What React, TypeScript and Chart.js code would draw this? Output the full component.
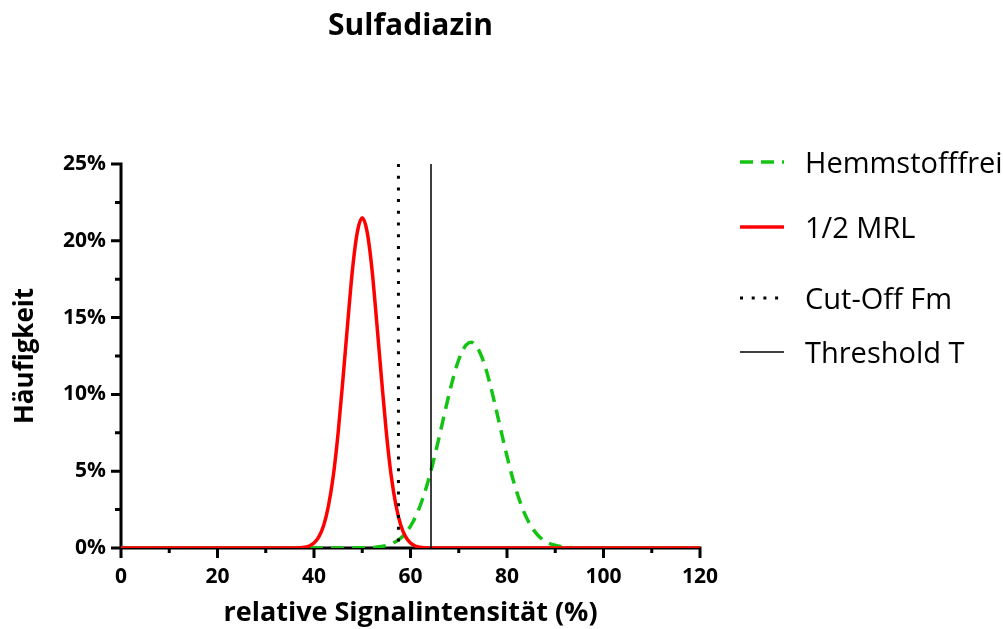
import { useEffect, useRef } from 'react';
import { Chart, registerables } from 'chart.js';

Chart.register(...registerables);

// Series labels, in legend order
const seriesLabels = ['Hemmstofffrei', '1/2 MRL', 'Cut-Off Fm', 'Threshold T'];

// Axis ticks
const xTickValues = [0, 20, 40, 60, 80, 100, 120];
const yTickValues = [0, 5, 10, 15, 20, 25];
const xMinorStep = 10;
const yMinorStep = 2.5;

// 1/2 MRL distribution (relative signal intensity %, frequency %)
const mrlX = [0, 34, 35, 36, 37, 38, 39, 40, 41, 42, 43, 44, 45, 46, 47, 48, 49, 50, 51, 52, 53, 54, 55, 56, 57, 58, 59, 60, 61, 62, 63, 64, 65, 66, 120];
const mrlY = [0, 0, 0, 0.006, 0.018, 0.05, 0.13, 0.32, 0.72, 1.46, 2.75, 4.7, 7.5, 11.0, 14.7, 18.2, 20.6, 21.5, 20.6, 18.2, 14.7, 11.0, 7.5, 4.7, 2.75, 1.46, 0.72, 0.32, 0.13, 0.05, 0.02, 0.006, 0, 0, 0];

// Inhibitor-free distribution
const freeX = [0, 45, 50, 51.5, 52.5, 53.5, 54.5, 55.5, 56.5, 57.5, 58.5, 59.5, 60.5, 61.5, 62.5, 63.5, 64.5, 65.5, 66.5, 67.5, 68.5, 69.5, 70.5, 71.5, 72.5, 73.5, 74.5, 75.5, 76.5, 77.5, 78.5, 79.5, 80.5, 81.5, 82.5, 83.5, 84.5, 85.5, 86.5, 87.5, 88.5, 89.5, 90.5, 91.5, 92.5, 93.5, 95, 100, 120];
const freeY = [0, 0, 0.01, 0.02, 0.04, 0.075, 0.13, 0.21, 0.34, 0.53, 0.8, 1.18, 1.69, 2.35, 3.19, 4.18, 5.34, 6.63, 7.99, 9.36, 10.65, 11.8, 12.65, 13.2, 13.4, 13.2, 12.65, 11.8, 10.65, 9.36, 7.99, 6.63, 5.34, 4.18, 3.19, 2.35, 1.69, 1.18, 0.8, 0.53, 0.34, 0.21, 0.13, 0.075, 0.04, 0.02, 0.01, 0, 0];

// Decision limits on the x axis
const cutOffFm = 57.5;
const thresholdT = 64.25;

const GREEN = '#13c413';
const RED = '#ff0000';
const BLACK = '#000000';
const FONT = '"Open Sans"';

const toPoints = (xs: number[], ys: number[]) => xs.map((x, i) => ({ x, y: ys[i] }));

// Axis lines and tick marks (major + minor), drawn beneath the curves
const axesFrame = {
  id: 'axesFrame',
  beforeDatasetsDraw(chart: any) {
    const { ctx, chartArea: a, scales } = chart;
    const xs = scales.x;
    const ys = scales.y;
    ctx.save();
    ctx.strokeStyle = BLACK;
    ctx.lineWidth = 3;
    ctx.lineCap = 'butt';
    ctx.beginPath();
    ctx.moveTo(a.left, a.top - 1.5);
    ctx.lineTo(a.left, a.bottom + 1.5);
    ctx.moveTo(a.left - 1.5, a.bottom);
    ctx.lineTo(a.right + 1.5, a.bottom);
    for (let v = xs.min; v <= xs.max + 1e-9; v += xMinorStep) {
      const px = xs.getPixelForValue(v);
      const major = xTickValues.includes(v);
      ctx.moveTo(px, a.bottom);
      ctx.lineTo(px, a.bottom + (major ? 10 : 5));
    }
    for (let v = ys.min; v <= ys.max + 1e-9; v += yMinorStep) {
      const py = ys.getPixelForValue(v);
      const major = yTickValues.includes(v);
      ctx.moveTo(a.left, py);
      ctx.lineTo(a.left - (major ? 10 : 6), py);
    }
    ctx.stroke();
    ctx.restore();
  },
};

// Chart title, axis titles and the legend on the right
const annotations = {
  id: 'annotations',
  afterDraw(chart: any) {
    const { ctx, chartArea: a } = chart;
    const cx = (a.left + a.right) / 2;
    const cy = (a.top + a.bottom) / 2;
    ctx.save();
    ctx.fillStyle = BLACK;
    ctx.textBaseline = 'alphabetic';
    ctx.textAlign = 'center';

    ctx.font = `bold 30px ${FONT}`;
    ctx.fillText('Sulfadiazin', cx, a.top - 129);

    ctx.font = `bold 27px ${FONT}`;
    ctx.fillText('relative Signalintensität (%)', cx, a.bottom + 73);

    ctx.save();
    ctx.translate(a.left - 88, cy);
    ctx.rotate(-Math.PI / 2);
    ctx.font = `bold 26px ${FONT}`;
    ctx.fillText('Häufigkeit', 0, 0);
    ctx.restore();

    // legend
    const rowY = [163, 228, 299, 353];
    const lineX0 = a.right + 40;
    const lineX1 = a.right + 84;
    const textX = a.right + 105;
    ctx.textAlign = 'left';
    ctx.font = `29px ${FONT}`;
    chart.data.datasets.forEach((ds: any, i: number) => {
      const y = rowY[i];
      ctx.save();
      ctx.strokeStyle = ds.borderColor;
      ctx.lineWidth = ds.borderWidth;
      ctx.setLineDash(ds.borderDash || []);
      ctx.beginPath();
      ctx.moveTo(lineX0, y - 1);
      ctx.lineTo(lineX1, y - 1);
      ctx.stroke();
      ctx.restore();
      ctx.fillText(ds.label, textX, y + 10);
    });
    ctx.restore();
  },
};

export default function App() {
  const canvasRef = useRef<HTMLCanvasElement>(null);

  useEffect(() => {
    if (!canvasRef.current) return;
    const tickFont = { family: FONT, size: 21, weight: 'bold' as const };
    const chart = new Chart(canvasRef.current, {
      type: 'line',
      data: {
        datasets: [
          {
            label: seriesLabels[0],
            data: toPoints(freeX, freeY),
            borderColor: GREEN,
            borderWidth: 3.5,
            borderDash: [13, 8],
            pointRadius: 0,
            fill: false,
            cubicInterpolationMode: 'monotone',
            order: 2,
          },
          {
            label: seriesLabels[1],
            data: toPoints(mrlX, mrlY),
            borderColor: RED,
            borderWidth: 3.5,
            pointRadius: 0,
            fill: false,
            cubicInterpolationMode: 'monotone',
            order: 1,
          },
          {
            label: seriesLabels[2],
            data: [{ x: cutOffFm, y: 25 }, { x: cutOffFm, y: 0 }],
            borderColor: BLACK,
            borderWidth: 3,
            borderDash: [3, 8.7],
            pointRadius: 0,
            fill: false,
            tension: 0,
            order: 0,
          },
          {
            label: seriesLabels[3],
            data: [{ x: thresholdT, y: 25 }, { x: thresholdT, y: 0 }],
            borderColor: BLACK,
            borderWidth: 1.5,
            pointRadius: 0,
            fill: false,
            tension: 0,
            order: 0,
          },
        ],
      },
      options: {
        animation: false,
        responsive: true,
        maintainAspectRatio: false,
        layout: { padding: { left: 0, top: 164, right: 303, bottom: 0 } },
        plugins: {
          legend: { display: false },
          tooltip: { enabled: false },
          title: { display: false },
        },
        scales: {
          x: {
            type: 'linear',
            min: 0,
            max: 120,
            afterFit: (s: any) => { s.height = 81; },
            afterBuildTicks: (s: any) => { s.ticks = xTickValues.map((value) => ({ value })); },
            ticks: { font: tickFont, color: BLACK, padding: 16, maxRotation: 0, autoSkip: false },
            grid: { display: false, drawTicks: false },
            border: { display: false },
          },
          y: {
            type: 'linear',
            min: 0,
            max: 25,
            afterFit: (s: any) => { s.width = 121; },
            afterBuildTicks: (s: any) => { s.ticks = yTickValues.map((value) => ({ value })); },
            ticks: { font: tickFont, color: BLACK, padding: 15, callback: (v: any) => `${v}%` },
            grid: { display: false, drawTicks: false },
            border: { display: false },
          },
        },
      },
      plugins: [axesFrame, annotations],
    });
    return () => chart.destroy();
  }, []);

  return (
    <div style={{ position: 'absolute', left: 0, top: 0, width: 1003, height: 629, background: '#fff' }}>
      <canvas ref={canvasRef} />
    </div>
  );
}
